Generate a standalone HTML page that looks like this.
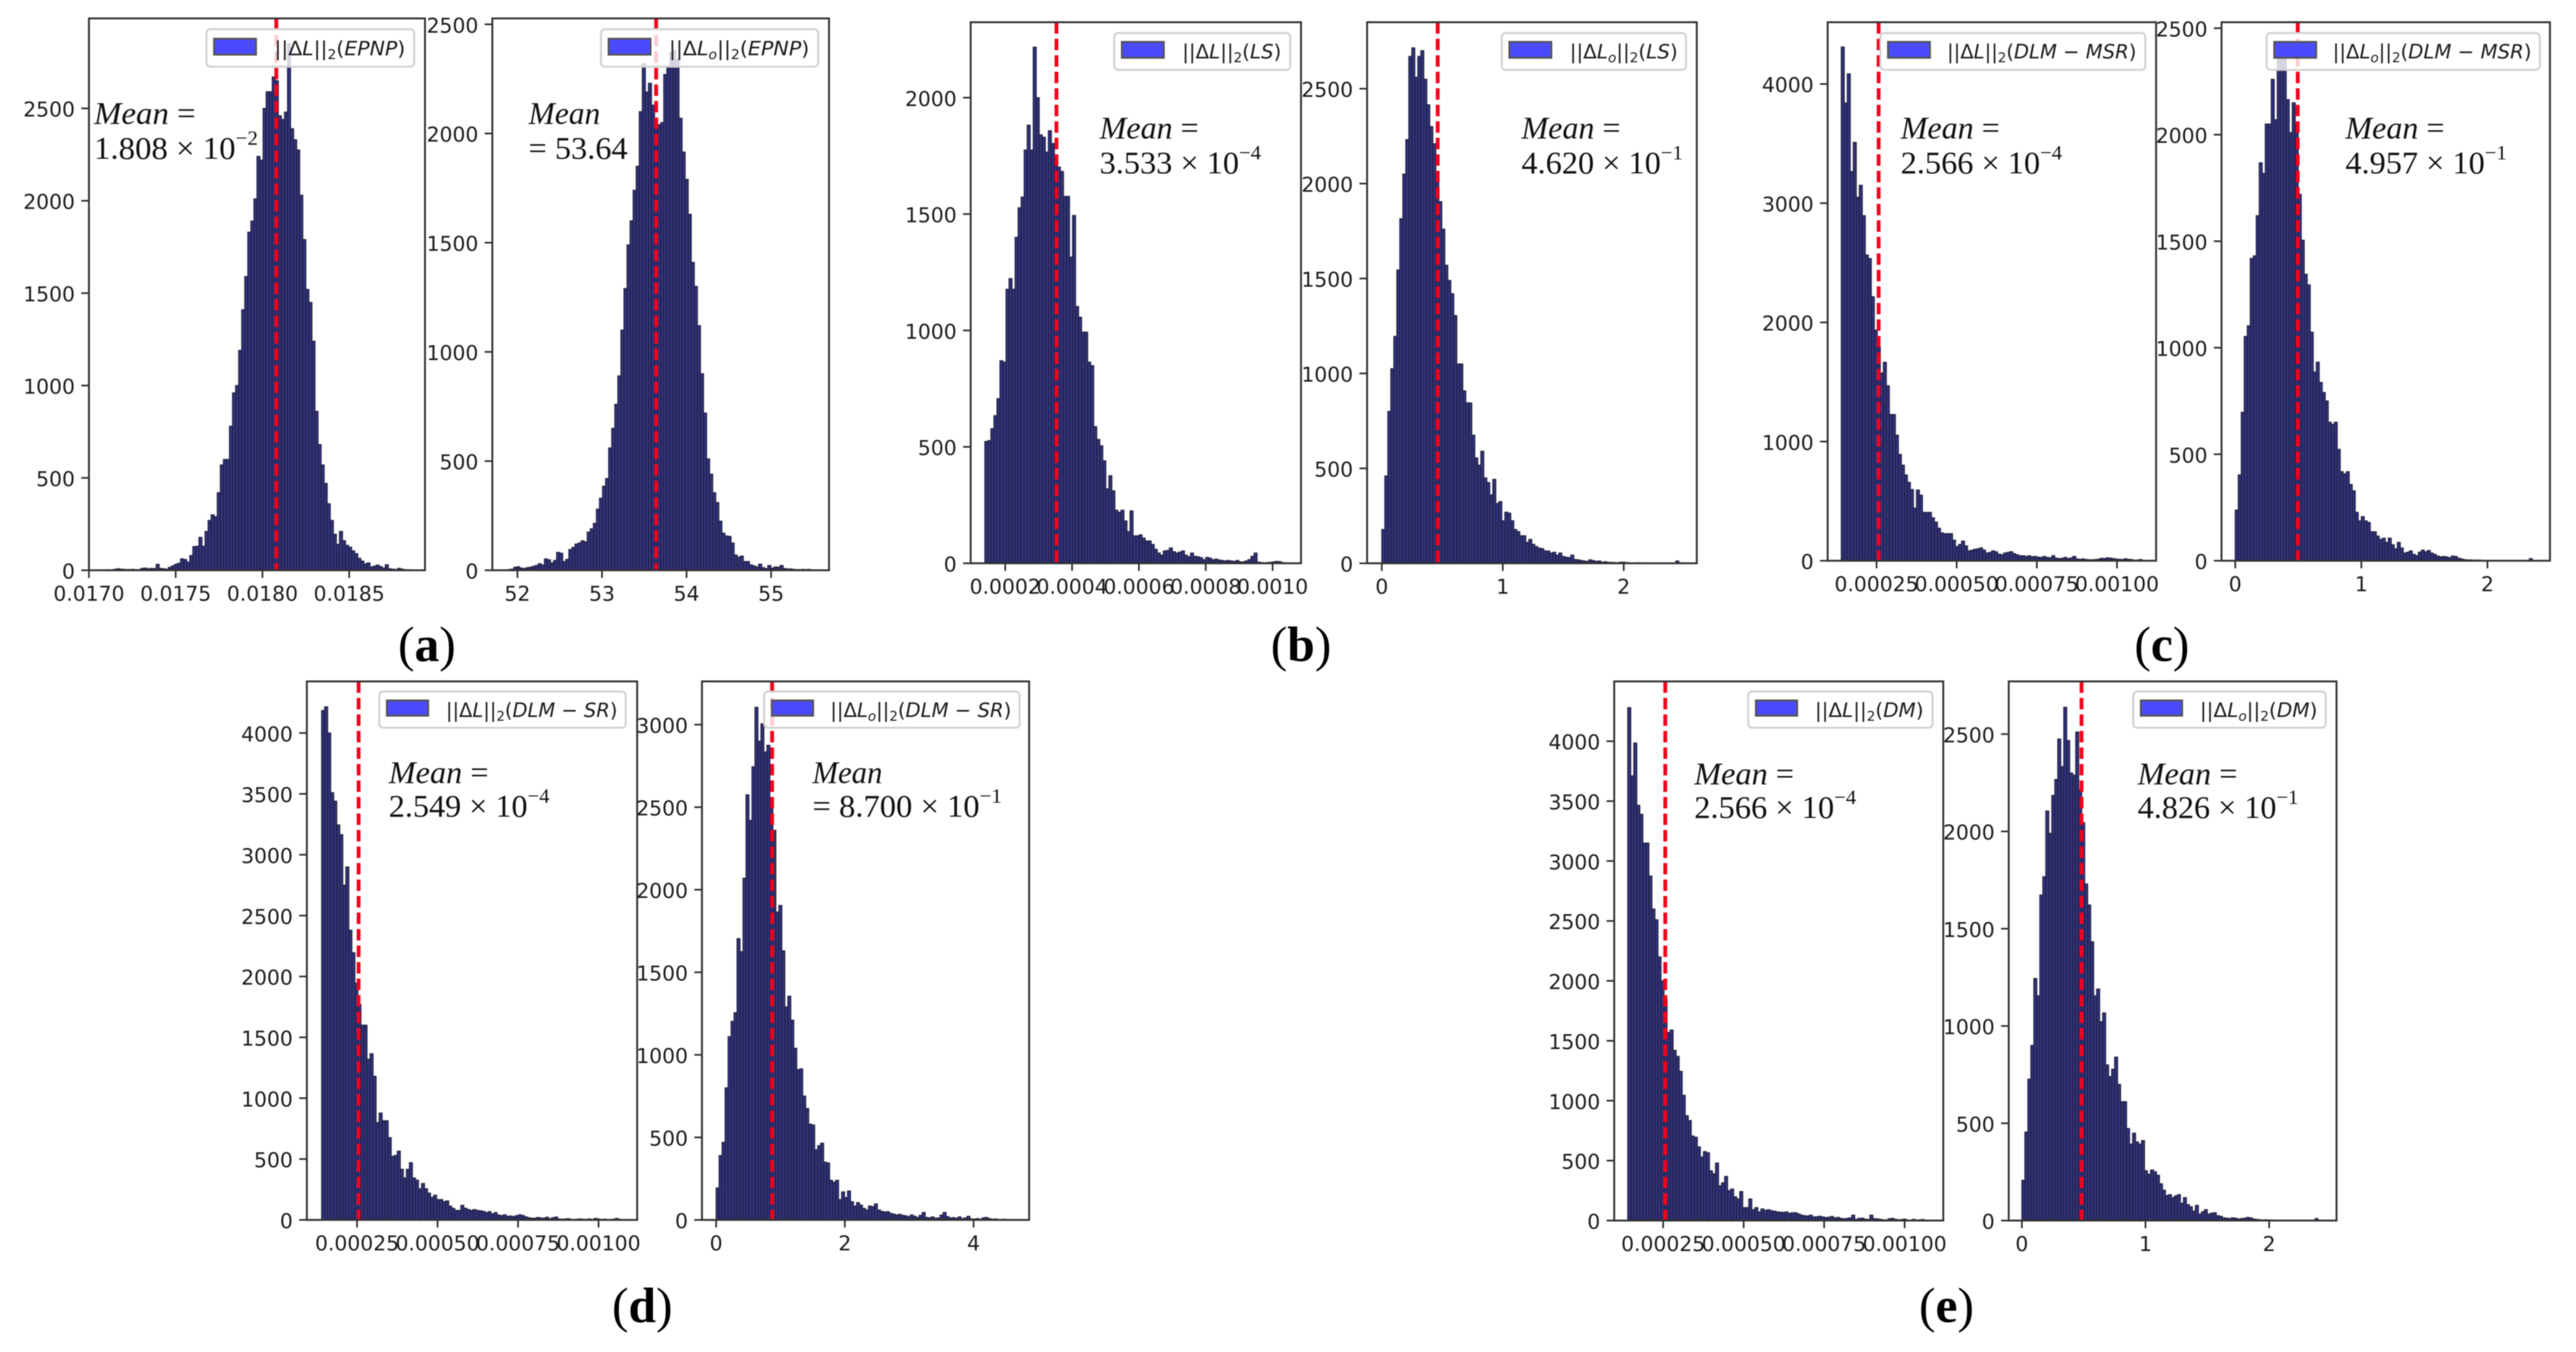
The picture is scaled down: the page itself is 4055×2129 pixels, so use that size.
<!DOCTYPE html>
<html lang="en">
<head>
<meta charset="utf-8">
<title>Error histograms</title>
<style>
html,body{margin:0;padding:0;width:4055px;height:2129px;background:#fff;overflow:hidden}
svg{display:block;filter:blur(0.9px)}
.tick{font-family:"DejaVu Sans","Liberation Sans",sans-serif;font-size:32px;fill:#1c1c1c}
.leg{font-family:"DejaVu Sans","Liberation Sans",sans-serif;font-size:31px;fill:#1c1c1c}
.leg-box{fill:#fff;fill-opacity:.8;stroke:#d0d0d0;stroke-width:3}
.leg-patch{fill:#4a4aff;stroke:#555;stroke-width:3}
.ann{font-family:"Liberation Serif",serif;font-size:50px;fill:#111}
.cap{font-family:"Liberation Serif",serif;font-size:78px;fill:#000;text-anchor:middle}
</style>
</head>
<body>
<svg id="fig" width="4055" height="2129" viewBox="0 0 4055 2129" xmlns="http://www.w3.org/2000/svg">
<rect width="4055" height="2129" fill="#fff"/>

<g id="p-a1"><g class="marks"></g>
<g><rect class="leg-box" x="325" y="46" width="327" height="59" rx="6"/><rect class="leg-patch" x="337" y="61" width="66" height="25"/><text class="leg" x="432" y="87" textLength="206" lengthAdjust="spacingAndGlyphs">||Δ<tspan font-style="italic">L</tspan>||<tspan font-size="21" dy="6">2</tspan><tspan dy="-6">(</tspan><tspan font-style="italic">EPNP</tspan>)</text></g>
<g><text class="ann" x="148" y="195" textLength="160" lengthAdjust="spacingAndGlyphs"><tspan font-style="italic">Mean</tspan> =</text><text class="ann" x="148" y="250" textLength="258" lengthAdjust="spacingAndGlyphs">1.808 × 10<tspan font-size="32" dy="-22">−2</tspan></text></g></g>

<g id="p-a2"><g class="marks"></g>
<g><rect class="leg-box" x="946" y="46" width="342" height="59" rx="6"/><rect class="leg-patch" x="958" y="61" width="66" height="25"/><text class="leg" x="1053" y="87" textLength="221" lengthAdjust="spacingAndGlyphs">||Δ<tspan font-style="italic">L</tspan><tspan font-style="italic" font-size="21" dy="6">o</tspan><tspan dy="-6">||</tspan><tspan font-size="21" dy="6">2</tspan><tspan dy="-6">(</tspan><tspan font-style="italic">EPNP</tspan>)</text></g>
<g><text class="ann" x="832" y="195" textLength="113" lengthAdjust="spacingAndGlyphs" font-style="italic">Mean</text><text class="ann" x="832" y="250" textLength="156" lengthAdjust="spacingAndGlyphs">= 53.64</text></g></g>

<g id="p-b1"><g class="marks"></g>
<g><rect class="leg-box" x="1754" y="52" width="277" height="58" rx="6"/><rect class="leg-patch" x="1766" y="66" width="66" height="25"/><text class="leg" x="1861" y="92" textLength="156" lengthAdjust="spacingAndGlyphs">||Δ<tspan font-style="italic">L</tspan>||<tspan font-size="21" dy="6">2</tspan><tspan dy="-6">(</tspan><tspan font-style="italic">LS</tspan>)</text></g>
<g><text class="ann" x="1731" y="218" textLength="156" lengthAdjust="spacingAndGlyphs"><tspan font-style="italic">Mean</tspan> =</text><text class="ann" x="1731" y="273" textLength="254" lengthAdjust="spacingAndGlyphs">3.533 × 10<tspan font-size="32" dy="-22">−4</tspan></text></g></g>

<g id="p-b2"><g class="marks"></g>
<g><rect class="leg-box" x="2364" y="52" width="290" height="58" rx="6"/><rect class="leg-patch" x="2376" y="66" width="66" height="25"/><text class="leg" x="2471" y="92" textLength="170" lengthAdjust="spacingAndGlyphs">||Δ<tspan font-style="italic">L</tspan><tspan font-style="italic" font-size="21" dy="6">o</tspan><tspan dy="-6">||</tspan><tspan font-size="21" dy="6">2</tspan><tspan dy="-6">(</tspan><tspan font-style="italic">LS</tspan>)</text></g>
<g><text class="ann" x="2395" y="218" textLength="156" lengthAdjust="spacingAndGlyphs"><tspan font-style="italic">Mean</tspan> =</text><text class="ann" x="2395" y="273" textLength="254" lengthAdjust="spacingAndGlyphs">4.620 × 10<tspan font-size="32" dy="-22">−1</tspan></text></g></g>

<g id="p-c1"><g class="marks"></g>
<g><rect class="leg-box" x="2960" y="52" width="417" height="58" rx="6"/><rect class="leg-patch" x="2972" y="66" width="66" height="25"/><text class="leg" x="3065" y="92" textLength="298" lengthAdjust="spacingAndGlyphs">||Δ<tspan font-style="italic">L</tspan>||<tspan font-size="21" dy="6">2</tspan><tspan dy="-6">(</tspan><tspan font-style="italic">DLM − MSR</tspan>)</text></g>
<g><text class="ann" x="2992" y="218" textLength="156" lengthAdjust="spacingAndGlyphs"><tspan font-style="italic">Mean</tspan> =</text><text class="ann" x="2992" y="273" textLength="254" lengthAdjust="spacingAndGlyphs">2.566 × 10<tspan font-size="32" dy="-22">−4</tspan></text></g></g>

<g id="p-c2"><g class="marks"></g>
<g><rect class="leg-box" x="3568" y="52" width="430" height="58" rx="6"/><rect class="leg-patch" x="3580" y="66" width="66" height="25"/><text class="leg" x="3672" y="92" textLength="313" lengthAdjust="spacingAndGlyphs">||Δ<tspan font-style="italic">L</tspan><tspan font-style="italic" font-size="21" dy="6">o</tspan><tspan dy="-6">||</tspan><tspan font-size="21" dy="6">2</tspan><tspan dy="-6">(</tspan><tspan font-style="italic">DLM − MSR</tspan>)</text></g>
<g><text class="ann" x="3692" y="218" textLength="156" lengthAdjust="spacingAndGlyphs"><tspan font-style="italic">Mean</tspan> =</text><text class="ann" x="3692" y="273" textLength="254" lengthAdjust="spacingAndGlyphs">4.957 × 10<tspan font-size="32" dy="-22">−1</tspan></text></g></g>

<g id="p-d1"><g class="marks"></g>
<g><rect class="leg-box" x="597" y="1089" width="388" height="57" rx="6"/><rect class="leg-patch" x="609" y="1103" width="65" height="24"/><text class="leg" x="702" y="1129" textLength="270" lengthAdjust="spacingAndGlyphs">||Δ<tspan font-style="italic">L</tspan>||<tspan font-size="21" dy="6">2</tspan><tspan dy="-6">(</tspan><tspan font-style="italic">DLM − SR</tspan>)</text></g>
<g><text class="ann" x="612" y="1233" textLength="157" lengthAdjust="spacingAndGlyphs"><tspan font-style="italic">Mean</tspan> =</text><text class="ann" x="612" y="1286" textLength="253" lengthAdjust="spacingAndGlyphs">2.549 × 10<tspan font-size="32" dy="-22">−4</tspan></text></g></g>

<g id="p-d2"><g class="marks"></g>
<g><rect class="leg-box" x="1203" y="1089" width="402" height="57" rx="6"/><rect class="leg-patch" x="1215" y="1103" width="65" height="24"/><text class="leg" x="1307" y="1129" textLength="285" lengthAdjust="spacingAndGlyphs">||Δ<tspan font-style="italic">L</tspan><tspan font-style="italic" font-size="21" dy="6">o</tspan><tspan dy="-6">||</tspan><tspan font-size="21" dy="6">2</tspan><tspan dy="-6">(</tspan><tspan font-style="italic">DLM − SR</tspan>)</text></g>
<g><text class="ann" x="1279" y="1233" textLength="110" lengthAdjust="spacingAndGlyphs" font-style="italic">Mean</text><text class="ann" x="1279" y="1286" textLength="298" lengthAdjust="spacingAndGlyphs">= 8.700 × 10<tspan font-size="32" dy="-22">−1</tspan></text></g></g>

<g id="p-e1"><g class="marks"></g>
<g><rect class="leg-box" x="2752" y="1089" width="290" height="57" rx="6"/><rect class="leg-patch" x="2764" y="1103" width="65" height="24"/><text class="leg" x="2857" y="1129" textLength="171" lengthAdjust="spacingAndGlyphs">||Δ<tspan font-style="italic">L</tspan>||<tspan font-size="21" dy="6">2</tspan><tspan dy="-6">(</tspan><tspan font-style="italic">DM</tspan>)</text></g>
<g><text class="ann" x="2667" y="1235" textLength="157" lengthAdjust="spacingAndGlyphs"><tspan font-style="italic">Mean</tspan> =</text><text class="ann" x="2667" y="1288" textLength="255" lengthAdjust="spacingAndGlyphs">2.566 × 10<tspan font-size="32" dy="-22">−4</tspan></text></g></g>

<g id="p-e2"><g class="marks"></g>
<g><rect class="leg-box" x="3358" y="1089" width="303" height="57" rx="6"/><rect class="leg-patch" x="3370" y="1103" width="65" height="24"/><text class="leg" x="3463" y="1129" textLength="185" lengthAdjust="spacingAndGlyphs">||Δ<tspan font-style="italic">L</tspan><tspan font-style="italic" font-size="21" dy="6">o</tspan><tspan dy="-6">||</tspan><tspan font-size="21" dy="6">2</tspan><tspan dy="-6">(</tspan><tspan font-style="italic">DM</tspan>)</text></g>
<g><text class="ann" x="3365" y="1235" textLength="157" lengthAdjust="spacingAndGlyphs"><tspan font-style="italic">Mean</tspan> =</text><text class="ann" x="3365" y="1288" textLength="253" lengthAdjust="spacingAndGlyphs">4.826 × 10<tspan font-size="32" dy="-22">−1</tspan></text></g></g>

<text class="cap" x="672" y="1041">(<tspan font-weight="bold">a</tspan>)</text>
<text class="cap" x="2048" y="1041">(<tspan font-weight="bold">b</tspan>)</text>
<text class="cap" x="3403" y="1041">(<tspan font-weight="bold">c</tspan>)</text>
<text class="cap" x="1011" y="2082">(<tspan font-weight="bold">d</tspan>)</text>
<text class="cap" x="3064" y="2082">(<tspan font-weight="bold">e</tspan>)</text>
</svg>

<script>
// ---- bin counts ----
const a1Counts=[2,3,2,5,8,6,5,4,4,5,3,4,10,12,8,10,9,32,10,8,6,16,24,32,38,62,58,44,80,128,130,178,130,210,270,300,290,420,570,600,600,780,960,1000,1190,1410,1590,1830,1890,2010,2240,2220,2500,2590,2590,2670,2650,2460,2440,2480,2850,2390,2330,2275,2030,1790,1520,1450,1240,860,680,570,470,360,270,195,140,210,160,135,125,105,90,65,50,35,40,18,22,28,20,12,30,8,6,4,10,6,3,3];
const a2Counts=[3,5,14,16,10,8,12,14,18,22,30,24,52,48,34,45,82,78,40,50,95,105,120,125,135,130,175,190,215,280,330,385,420,560,650,760,890,1100,1290,1490,1600,1740,1850,2100,2320,2190,2230,2130,2070,2040,2050,2270,2310,2370,2380,2340,2070,1915,1790,1630,1410,1300,1120,900,720,510,440,355,310,225,170,157,155,125,70,60,65,40,40,25,20,15,28,12,8,22,10,15,14,22,8,6,6,4,3,3,4,3,4,2];
const b1Counts=[523,527,578,634,707,870,864,1177,1223,1177,1400,1527,1573,1775,1882,1775,2217,2000,1840,1830,1766,1858,1803,1730,1702,1683,1576,1576,1315,1494,1103,1057,993,993,864,849,587,532,505,440,320,376,311,228,219,228,182,136,225,118,118,122,108,96,96,81,60,44,35,53,55,66,50,44,48,53,35,28,44,30,28,24,15,25,22,15,18,14,12,10,12,10,8,12,6,6,10,16,30,44,5,3,2,3,4,6,8,7,3,2];
const b2Counts=[178,460,800,1025,1195,1545,1815,2050,2232,2670,2715,2560,2670,2700,2550,2415,2300,2210,2020,1905,1760,1570,1490,1420,1305,1050,1050,908,845,845,675,555,517,590,450,425,360,442,315,325,224,269,264,224,178,167,145,145,110,126,100,88,80,77,65,65,54,58,43,54,36,32,30,43,20,18,15,12,10,18,14,10,12,6,8,5,5,4,3,5,6,4,3,2,2,3,2,2,1,1,2,1,1,1,1,1,1,1,12,3];
const c1Counts=[4310,3840,4085,3265,3510,3050,3150,2895,2565,2535,2215,1935,1790,1575,1665,1468,1227,1227,1054,892,802,720,658,597,442,593,550,406,406,406,360,324,273,234,227,227,227,173,119,137,165,125,83,88,96,100,108,90,65,70,83,75,55,50,65,70,76,60,50,42,42,36,42,34,36,30,28,36,28,24,42,22,18,20,28,18,24,36,15,12,15,10,8,8,10,12,20,18,24,22,18,14,12,10,16,12,10,5,6,10];
const c2Counts=[238,403,697,1053,1103,1419,1431,1620,1868,1818,2050,2050,2260,2070,2370,2430,2400,2165,2010,2150,2043,1720,1505,1345,1295,1073,886,932,837,790,750,650,640,650,523,418,408,418,358,328,227,187,207,187,180,136,136,116,100,106,86,106,75,56,86,60,36,40,46,30,24,40,50,42,48,36,30,22,18,20,18,14,22,20,12,8,5,4,4,3,3,3,2,2,1,1,1,2,1,1,1,1,1,1,1,1,1,1,10,2];
const d1Counts=[4185,4215,4000,3510,3440,3245,3165,2750,2900,2380,2195,1945,1770,1600,1600,1320,1365,1180,800,878,815,815,676,523,530,565,416,345,416,470,345,327,256,299,256,220,185,203,167,167,150,156,114,95,78,78,120,96,85,78,85,78,75,70,60,68,50,60,40,35,42,30,32,28,35,42,36,25,18,14,14,20,16,15,22,10,18,24,8,6,8,10,5,4,6,8,5,5,8,4,12,8,4,6,3,4,6,12,5,3];
const d2Counts=[194,390,470,800,1110,1203,1255,1704,1625,2070,2575,2420,2745,3105,2900,3005,2835,2875,2550,2360,1865,1905,1630,1290,1355,1210,1040,910,915,750,675,580,575,425,450,465,350,345,240,228,240,123,170,136,175,110,84,105,90,70,60,84,80,97,60,52,48,50,40,35,30,34,28,25,20,30,22,15,28,45,15,12,18,10,12,30,45,20,12,14,10,18,8,12,22,6,5,8,4,12,15,8,4,6,3,3,4,2,3,2];
const e1Counts=[4280,3710,3985,3465,3390,3150,3150,2875,2600,2510,2200,2000,1850,1570,1590,1420,1370,1245,1045,875,835,705,695,615,530,575,566,415,390,480,290,315,368,250,263,198,180,242,108,108,180,90,108,72,97,85,90,82,78,72,70,68,72,60,65,65,55,45,40,38,45,30,32,36,30,25,28,34,22,26,18,14,18,22,45,10,18,20,12,10,45,16,14,10,6,5,15,18,10,6,8,12,5,4,10,4,6,8,3,2];
const e2Counts=[207,455,727,900,1244,1155,1673,1767,2105,1990,2185,2267,2475,2333,2638,2467,2300,2289,2511,2215,2045,1730,1622,1433,1155,1190,1022,1067,800,740,778,840,700,611,611,473,393,449,404,393,411,256,238,260,251,233,189,156,129,133,118,127,133,89,118,82,71,49,78,33,45,56,33,38,40,25,22,14,12,10,14,12,8,10,12,16,14,8,6,4,3,4,3,3,2,2,2,1,1,1,2,1,1,1,1,1,1,1,10,2];

// ---- histogram first bin edge and bin width ----
const a1Bins=[0.017088,0.00001761];
const a2Bins=[51.884,0.0362];
const b1Bins=[0.000139,0.00000905];
const b2Bins=[0,0.0248];
const c1Bins=[0.00014,0.00000938];
const c2Bins=[0,0.0238];
const d1Bins=[0.00014,0.0000094];
const d2Bins=[0,0.0464];
const e1Bins=[0.00014,0.0000094];
const e2Bins=[0,0.0242];

// ---- mean values (dashed lines) ----
const a1Mean=0.01808, a2Mean=53.64, b1Mean=0.0003533, b2Mean=0.462, c1Mean=0.0002566;
const c2Mean=0.4957, d1Mean=0.0002549, d2Mean=0.87, e1Mean=0.0002566, e2Mean=0.4826;

// ---- x tick values and labels ----
const a1XTicks=[0.017,0.0175,0.018,0.0185];
const a1XLabels=["0.0170","0.0175","0.0180","0.0185"];
const a2XTicks=[52,53,54,55];
const a2XLabels=["52","53","54","55"];
const b1XTicks=[0.0002,0.0004,0.0006,0.0008,0.001];
const b1XLabels=["0.0002","0.0004","0.0006","0.0008","0.0010"];
const b2XTicks=[0,1,2];
const b2XLabels=["0","1","2"];
const c1XTicks=[0.00025,0.0005,0.00075,0.001];
const c1XLabels=["0.00025","0.00050","0.00075","0.00100"];
const c2XTicks=[0,1,2];
const c2XLabels=["0","1","2"];
const d1XTicks=[0.00025,0.0005,0.00075,0.001];
const d1XLabels=["0.00025","0.00050","0.00075","0.00100"];
const d2XTicks=[0,2,4];
const d2XLabels=["0","2","4"];
const e1XTicks=[0.00025,0.0005,0.00075,0.001];
const e1XLabels=["0.00025","0.00050","0.00075","0.00100"];
const e2XTicks=[0,1,2];
const e2XLabels=["0","1","2"];

// ---- y tick values ----
const a1YTicks=[0,500,1000,1500,2000,2500];
const a2YTicks=[0,500,1000,1500,2000,2500];
const b1YTicks=[0,500,1000,1500,2000];
const b2YTicks=[0,500,1000,1500,2000,2500];
const c1YTicks=[0,1000,2000,3000,4000];
const c2YTicks=[0,500,1000,1500,2000,2500];
const d1YTicks=[0,500,1000,1500,2000,2500,3000,3500,4000];
const d2YTicks=[0,500,1000,1500,2000,2500,3000];
const e1YTicks=[0,500,1000,1500,2000,2500,3000,3500,4000];
const e2YTicks=[0,500,1000,1500,2000,2500];

// ---- axis limits ----
const a1XLim=[0.017,0.018937], a1YMax=2987;
const a2XLim=[51.703,55.685], a2YMax=2527;
const b1XLim=[0.0000967,0.001085], b1YMax=2324;
const b2XLim=[-0.1216,2.604], b2YMax=2850;
const c1XLim=[0.0000976,0.001122], c1YMax=4518;
const c2XLim=[-0.1087,2.496], c2YMax=2528;
const d1XLim=[0.0000941,0.00112], d1YMax=4424;
const d2XLim=[-0.22,4.863], d2YMax=3262;
const e1XLim=[0.000098,0.00112], e1YMax=4499;
const e2XLim=[-0.1064,2.545], e2YMax=2771;

const SVGNS='http://www.w3.org/2000/svg';

function linearScale(domain,range){
  return v=>range[0]+(v-domain[0])*(range[1]-range[0])/(domain[1]-domain[0]);
}

function shape(parent,tag){
  const el=document.createElementNS(SVGNS,tag);
  parent.appendChild(el);
  return el;
}

function drawPanel(id,box,xLim,yMax,counts,bins,mean,xTicks,xLabels,yTicks){
  const g=document.querySelector('#'+id+' .marks');
  const x=linearScale(xLim,[box.left,box.right]);
  const y=linearScale([0,yMax],[box.bottom,box.top]);

  counts.forEach((c,i)=>{
    const x0=x(bins[0]+i*bins[1]);
    const x1=x(bins[0]+(i+1)*bins[1]);
    const r=shape(g,'rect');
    
    
    r.setAttribute('x',x0);
    r.setAttribute('y',y(c));
    r.setAttribute('width',x1-x0);
    r.setAttribute('height',box.bottom-y(c));
    r.setAttribute('fill','#32327e');
    r.setAttribute('stroke','#20203c');
    r.setAttribute('stroke-width','1.5');
  });

  const m=shape(g,'line');
  
  
  m.setAttribute('x1',x(mean));
  m.setAttribute('x2',x(mean));
  m.setAttribute('y1',box.top);
  m.setAttribute('y2',box.bottom);
  m.setAttribute('stroke','#f4001c');
  m.setAttribute('stroke-width','6');
  m.setAttribute('stroke-dasharray','18 8');

  xTicks.forEach((t,i)=>{
    const k=shape(g,'line');
    
    
    k.setAttribute('x1',x(t));
    k.setAttribute('x2',x(t));
    k.setAttribute('y1',box.bottom);
    k.setAttribute('y2',box.bottom+12);
    k.setAttribute('stroke','#222');
    k.setAttribute('stroke-width','2.5');
    const l=shape(g,'text');
    
    
    l.setAttribute('class','tick');
    l.setAttribute('x',x(t));
    l.setAttribute('y',box.bottom+48);
    l.setAttribute('text-anchor','middle');
    l.textContent=xLabels[i];
  });

  yTicks.forEach(t=>{
    const k=shape(g,'line');
    
    
    k.setAttribute('x1',box.left-12);
    k.setAttribute('x2',box.left);
    k.setAttribute('y1',y(t));
    k.setAttribute('y2',y(t));
    k.setAttribute('stroke','#222');
    k.setAttribute('stroke-width','2.5');
    const l=shape(g,'text');
    
    
    l.setAttribute('class','tick');
    l.setAttribute('x',box.left-22);
    l.setAttribute('y',y(t)+13);
    l.setAttribute('text-anchor','end');
    l.textContent=String(t);
  });

  const f=shape(g,'rect');
  
  
  f.setAttribute('x',box.left);
  f.setAttribute('y',box.top);
  f.setAttribute('width',box.right-box.left);
  f.setAttribute('height',box.bottom-box.top);
  f.setAttribute('fill','none');
  f.setAttribute('stroke','#333');
  f.setAttribute('stroke-width','3');
}

drawPanel('p-a1',{left:140,right:669,top:29,bottom:898},a1XLim,a1YMax,a1Counts,a1Bins,a1Mean,a1XTicks,a1XLabels,a1YTicks);
drawPanel('p-a2',{left:775,right:1305,top:29,bottom:898},a2XLim,a2YMax,a2Counts,a2Bins,a2Mean,a2XTicks,a2XLabels,a2YTicks);
drawPanel('p-b1',{left:1528,right:2048,top:35,bottom:887},b1XLim,b1YMax,b1Counts,b1Bins,b1Mean,b1XTicks,b1XLabels,b1YTicks);
drawPanel('p-b2',{left:2152,right:2671,top:35,bottom:887},b2XLim,b2YMax,b2Counts,b2Bins,b2Mean,b2XTicks,b2XLabels,b2YTicks);
drawPanel('p-c1',{left:2877,right:3394,top:35,bottom:883},c1XLim,c1YMax,c1Counts,c1Bins,c1Mean,c1XTicks,c1XLabels,c1YTicks);
drawPanel('p-c2',{left:3497,right:4014,top:35,bottom:883},c2XLim,c2YMax,c2Counts,c2Bins,c2Mean,c2XTicks,c2XLabels,c2YTicks);
drawPanel('p-d1',{left:483,right:1003,top:1073,bottom:1921},d1XLim,d1YMax,d1Counts,d1Bins,d1Mean,d1XTicks,d1XLabels,d1YTicks);
drawPanel('p-d2',{left:1105,right:1620,top:1073,bottom:1921},d2XLim,d2YMax,d2Counts,d2Bins,d2Mean,d2XTicks,d2XLabels,d2YTicks);
drawPanel('p-e1',{left:2541,right:3059,top:1073,bottom:1922},e1XLim,e1YMax,e1Counts,e1Bins,e1Mean,e1XTicks,e1XLabels,e1YTicks);
drawPanel('p-e2',{left:3162,right:3678,top:1073,bottom:1922},e2XLim,e2YMax,e2Counts,e2Bins,e2Mean,e2XTicks,e2XLabels,e2YTicks);
</script>
</body>
</html>
